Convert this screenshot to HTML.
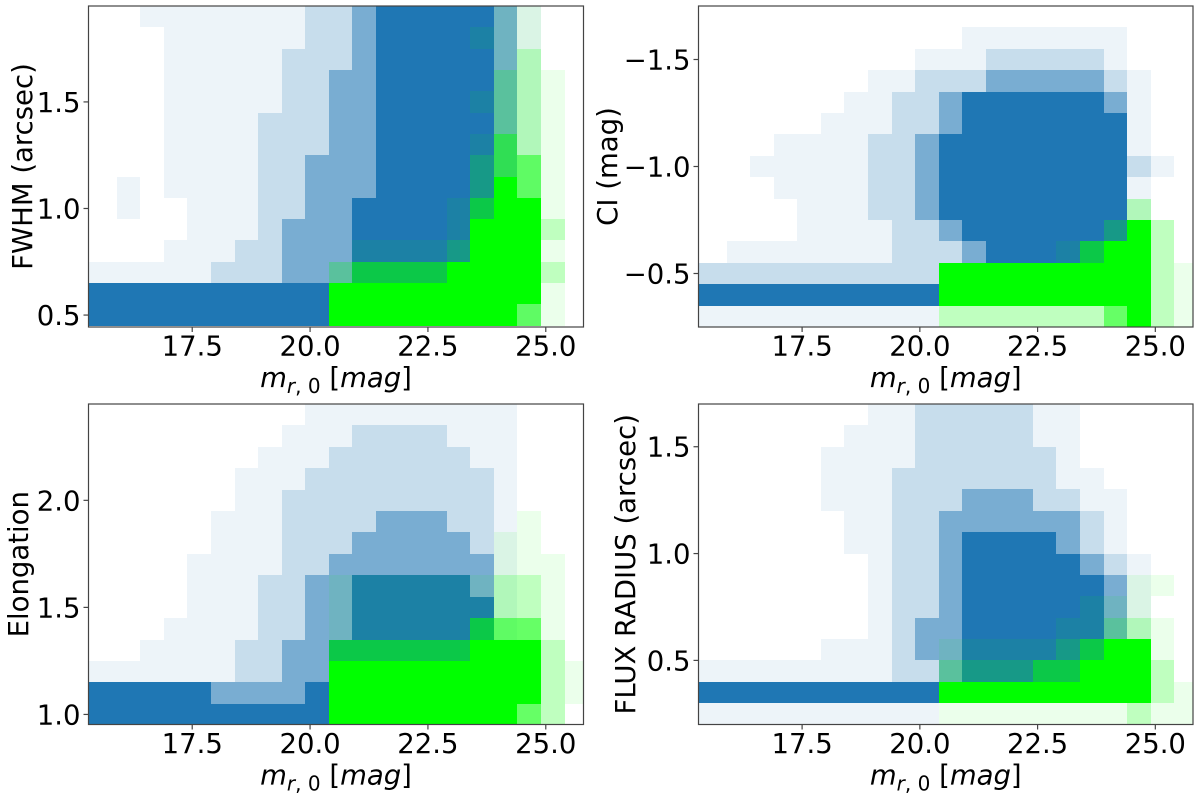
<!DOCTYPE html>
<html><head><meta charset="utf-8">
<style>
html,body{margin:0;padding:0;background:#fff;}
svg{display:block;}
text{font-family:"DejaVu Sans","Liberation Sans",sans-serif;fill:#000;}
</style></head>
<body>
<svg id="fig" width="1200" height="798" viewBox="0 0 1200 798" xmlns="http://www.w3.org/2000/svg">
</svg>
<script>
// ---- shared data ----
const xTicks = [17.5, 20.0, 22.5, 25.0];
const xTickLabels = ["17.5", "20.0", "22.5", "25.0"];
const xLim = [15.3, 25.8];
const binX0 = 15.4;
const binW = 0.5;

// ---- panel 1: FWHM ----
const fwhmYLim = [0.444, 1.95];
const fwhmYTicks = [0.5, 1.0, 1.5];
const fwhmYTickLabels = ["0.5", "1.0", "1.5"];
const fwhmRowCenters = [1.9,1.8,1.7,1.6,1.5,1.4,1.3,1.2,1.1,1.0,0.9,0.8,0.7,0.6,0.5];
const fwhmBlue = [
"001111111223444443100","000111111223444443100","000111112223444443100",
"000111112233444443100","000111112233444443100","000111122233444443100",
"000111122233444443100","000111122333444443100","010111122333444443100",
"010011122334444443100","000011123334444443100","000111223334444443100",
"111112223334444444100","444444444444444444200","444444444444444444100"];
const fwhmGreen = [
"000000000000000001100","000000000000000011100","000000000000000001200",
"000000000000000002210","000000000000000012210","000000000000000002210",
"000000000000000013210","000000000000000023310","000000000000000024310",
"000000000000000134410","000000000000000144420","000000000001111244410",
"000000000023333444420","000000000044444444410","000000000044444444310"];

// ---- panel 2: CI (inverted y) ----
const ciYLim = [-0.25, -1.75];
const ciYTicks = [-0.5, -1.0, -1.5];
const ciYTickLabels = ["\u22120.5", "\u22121.0", "\u22121.5"];
const ciRowCenters = [-1.7,-1.6,-1.5,-1.4,-1.3,-1.2,-1.1,-1.0,-0.9,-0.8,-0.7,-0.6,-0.5,-0.4,-0.3];
const ciBlue = [
"000000000000000000000","000000000001111111000","000000000111222221000",
"000000011222333332100","000000112234444443100","000001112234444444100",
"000111122344444444100","001111122344444444210","000111122344444444100",
"000011122344444444100","000011112234444444100","011111112223444444100",
"222222222222444444100","444444444444444444100","111111111100000000000"];
const ciGreen = [
"000000000000000000000","000000000000000000000","000000000000000000000",
"000000000000000000000","000000000000000000000","000000000000000000000",
"000000000000000000000","000000000000000000000","000000000000000000000",
"000000000000000000200","000000000000000002420","000000000000000134420",
"000000000044444444421","000000000044444444421","000000000022222223421"];

// ---- panel 3: Elongation ----
const elYLim = [0.953, 2.45];
const elYTicks = [1.0, 1.5, 2.0];
const elYTickLabels = ["1.0", "1.5", "2.0"];
const elRowCenters = [2.4,2.3,2.2,2.1,2.0,1.9,1.8,1.7,1.6,1.5,1.4,1.3,1.2,1.1,1.0];
const elBlue = [
"000000000111111111000","000000001112222111000","000000011122222211000",
"000000111222222221000","000000112222222221000","000001112222333221000",
"000001112223333321000","000011112233333331000","000011122334444431000",
"000011122334444441000","000111122334444441000","001111223344444441000",
"111111223344444441000","444443333444444442000","444444444444444442000"];
const elGreen = [
"000000000000000000000","000000000000000000000","000000000000000000000",
"000000000000000000000","000000000000000000000","000000000000000000100",
"000000000000000001100","000000000000000001110","000000000011111112210",
"000000000011111112210","000000000011111133310","000000000033333344420",
"000000000044444444421","000000000044444444421","000000000044444444320"];

// ---- panel 4: FLUX RADIUS ----
const frYLim = [0.2, 1.70];
const frYTicks = [0.5, 1.0, 1.5];
const frYTickLabels = ["0.5", "1.0", "1.5"];
const frRowCenters = [1.65,1.55,1.45,1.35,1.25,1.15,1.05,0.95,0.85,0.75,0.65,0.55,0.45,0.35,0.25];
const frBlue = [
"000000011222221100000","000000111222221100000","000001111222222100000",
"000001112222222110000","000001112223332211000","000000112233333321000",
"000000112234444321000","000000012234444432100","000000012234444443100",
"000000012234444443100","000000012334444443100","000001112334444443100",
"111111112234444443100","444444444444444444100","111111111100000000000"];
const frGreen = [
"000000000000000000000","000000000000000000000","000000000000000000000",
"000000000000000000000","000000000000000000000","000000000000000000000",
"000000000000000000000","000000000000000000000","000000000000000000110",
"000000000000000011100","000000000000000112210","000000000011111234410",
"000000000022223344420","000000000044444444421","000000000011111111211"];

const levelOpacity = [0, 0.08, 0.25, 0.6, 1.0];
const NS = "http://www.w3.org/2000/svg";
const fig = document.getElementById("fig");
const FS = 27.5;

function mk(tag, attrs, parent) {
  const e = document.createElementNS(NS, tag);
  for (const k in attrs) e.setAttribute(k, attrs[k]);
  parent.appendChild(e);
  return e;
}

function drawPanel(cfg) {
  const g = mk("g", {}, fig);
  
  
  const L = cfg.box[0], T = cfg.box[1], R = cfg.box[2], B = cfg.box[3];
  const sx = v => L + (v - xLim[0]) / (xLim[1] - xLim[0]) * (R - L);
  const sy = v => T + (cfg.yLim[1] - v) / (cfg.yLim[1] - cfg.yLim[0]) * (B - T);
  const rowH = Math.abs(cfg.rows[0] - cfg.rows[1]);
  const clipId = "clip-" + cfg.name;
  const cp = mk("clipPath", {id: clipId}, g);
  mk("rect", {x: L, y: T, width: R - L, height: B - T}, cp);
  const plot = mk("g", {"clip-path": "url(#" + clipId + ")"}, g);
  
  
  [["blue", cfg.blue, "#1f77b4"], ["green", cfg.green, "#00ff00"]].forEach(([nm, grid, col]) => {
    const layer = mk("g", {"shape-rendering": "crispEdges"}, plot);
    
    
    grid.forEach((row, ri) => {
      const yc = cfg.rows[ri];
      const y1 = Math.round(sy(yc + rowH / 2)), y2 = Math.round(sy(yc - rowH / 2));
      for (let ci = 0; ci < row.length; ci++) {
        const lv = +row[ci];
        if (!lv) continue;
        let xa = binX0 + ci * binW, xb = xa + binW;
        if (ci === 0) xa = xLim[0] - 0.2;
        const x1 = Math.round(sx(xa)), x2 = Math.round(sx(xb));
        const r = mk("rect", {x: x1, y: Math.min(y1, y2), width: x2 - x1,
          height: Math.abs(y2 - y1), fill: col, "fill-opacity": levelOpacity[lv]}, layer);
        
        
      }
    });
  });
  const frame = mk("rect", {x: L, y: T, width: R - L, height: B - T, fill: "none", stroke: "#444", "stroke-width": 1.2}, g);
  
  
  xTicks.forEach((v, i) => {
    const x = sx(v);
    const tk = mk("line", {x1: x, x2: x, y1: B, y2: B + 5, stroke: "#444", "stroke-width": 1.2}, g);
    
    
    const t = mk("text", {x: x, y: B + 28.5, "text-anchor": "middle", "font-size": FS}, g);
    t.textContent = xTickLabels[i];
    
    
  });
  cfg.yTicks.forEach((v, i) => {
    const y = sy(v);
    const tk = mk("line", {x1: L - 5, x2: L, y1: y, y2: y, stroke: "#444", "stroke-width": 1.2}, g);
    
    
    const t = mk("text", {x: L - 8, y: y + 10, "text-anchor": "end", "font-size": FS}, g);
    t.textContent = cfg.yTickLabels[i];
    
    
  });
  const xl = mk("text", {x: (L + R) / 2, y: B + 60, "text-anchor": "middle", "font-size": FS}, g);
  xl.innerHTML = '<tspan font-style="italic">m</tspan><tspan font-size="20" dy="6"><tspan font-style="italic">r</tspan>, 0</tspan><tspan dy="-6"> [</tspan><tspan font-style="italic">mag</tspan>]';
  
  
  const cy = (T + B) / 2;
  const yl = mk("text", {x: cfg.ylabelX, y: cy, "text-anchor": "middle", "font-size": FS,
    transform: "rotate(-90 " + cfg.ylabelX + " " + cy + ")"}, g);
  yl.textContent = cfg.ylabel;
  
  
}

drawPanel({name: "fwhm-panel", box: [88.5, 6, 583.5, 327], yLim: fwhmYLim, yTicks: fwhmYTicks,
  yTickLabels: fwhmYTickLabels, rows: fwhmRowCenters, blue: fwhmBlue, green: fwhmGreen,
  ylabel: "FWHM (arcsec)", ylabelX: 32});
drawPanel({name: "ci-panel", box: [698.5, 6, 1193, 327], yLim: ciYLim, yTicks: ciYTicks,
  yTickLabels: ciYTickLabels, rows: ciRowCenters, blue: ciBlue, green: ciGreen,
  ylabel: "CI (mag)", ylabelX: 617});
drawPanel({name: "elongation-panel", box: [88.5, 404, 583.5, 724.5], yLim: elYLim, yTicks: elYTicks,
  yTickLabels: elYTickLabels, rows: elRowCenters, blue: elBlue, green: elGreen,
  ylabel: "Elongation", ylabelX: 28});
drawPanel({name: "flux-radius-panel", box: [698.5, 404, 1193, 724.5], yLim: frYLim, yTicks: frYTicks,
  yTickLabels: frYTickLabels, rows: frRowCenters, blue: frBlue, green: frGreen,
  ylabel: "FLUX RADIUS (arcsec)", ylabelX: 635});
</script>
</body></html>
